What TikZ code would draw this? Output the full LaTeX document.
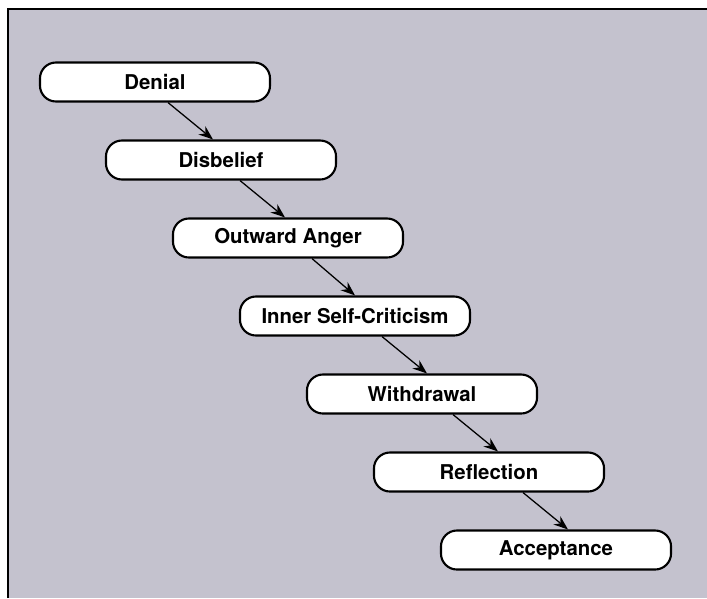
\documentclass[tikz,border=0pt]{standalone}
\usepackage{fontspec}
\setmainfont{TeX Gyre Heros}
\usetikzlibrary{arrows.meta}
\definecolor{panelgray}{RGB}{196,194,206}
\tikzset{
  stage/.style={draw=black, fill=white, line width=1.5pt, rounded corners=0.4cm,
    minimum width=5.75cm, minimum height=0.975cm, inner sep=0pt,
    font=\fontsize{14.5}{16}\selectfont\bfseries},
  flow/.style={line width=0.9pt, -{Stealth[length=3.6mm, width=2.7mm, inset=1.2mm]}}
}
\begin{document}
\begin{tikzpicture}[x=0.025cm, y=-0.025cm]
            \useasboundingbox (0,0) rectangle (707,598);
            \fill[panelgray] (8,9) rectangle (707,598);
            \draw[line width=1.3pt] (8,598) -- (8,9) -- (707,9);
            \node[stage] (denial)     at (155,82)  {Denial};
            \node[stage] (disbelief)  at (221,160) {Disbelief};
            \node[stage] (anger)      at (288,238) {Outward Anger};
            \node[stage] (criticism)  at (355,316) {Inner Self-Criticism};
            \node[stage] (withdrawal) at (422,394) {Withdrawal};
            \node[stage] (reflection) at (489,472) {Reflection};
            \node[stage] (acceptance) at (556,550) {Acceptance};
            \draw[flow] ([shift={(13,0)}]denial.south)     -- ([shift={(-8,0)}]disbelief.north);
            \draw[flow] ([shift={(19,0)}]disbelief.south)  -- ([shift={(-3,0)}]anger.north);
            \draw[flow] ([shift={(24,0)}]anger.south)      -- ([shift={(0,0)}]criticism.north);
            \draw[flow] ([shift={(27,0)}]criticism.south)  -- ([shift={(5,0)}]withdrawal.north);
            \draw[flow] ([shift={(31,0)}]withdrawal.south) -- ([shift={(9,0)}]reflection.north);
            \draw[flow] ([shift={(34,0)}]reflection.south) -- ([shift={(12,0)}]acceptance.north);
        \end{tikzpicture}
\end{document}
